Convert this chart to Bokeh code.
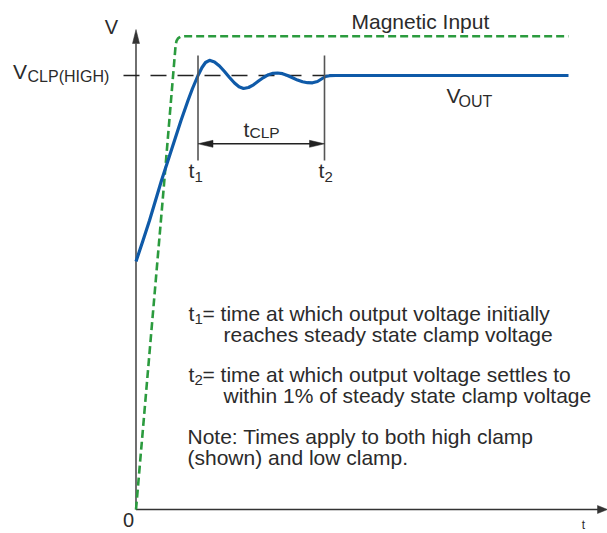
from bokeh.plotting import figure
from bokeh.models import Range1d
from bokeh.core.properties import value
from bokeh.embed import file_html
from bokeh.resources import INLINE

# ---- data (time / voltage in arbitrary units, origin where the axes cross) ----
vout_t = [0, 7, 13.5, 19.5, 25.5, 32, 38.5, 45, 52, 56.5, 62, 66, 69.5, 73.5,
          78.5, 83.5, 88.5, 93.5, 98.5, 103, 107.5, 112.5, 117.5, 122.5, 127.5,
          132.5, 137, 141.5, 146.5, 151.5, 156.5, 161.5, 166.5, 171.5, 176.5,
          181.5, 185.5, 189.5, 193.5, 199.5, 432.5]
vout_v = [248, 269, 289, 309, 329, 349, 369, 389, 409, 421, 434, 442, 447, 449.2,
          447.5, 443.5, 438, 432, 426.5, 422.7, 421, 422, 424.7, 428.5, 432,
          434.8, 436.2, 436.5, 435.8, 434, 431.7, 429.4, 427.7, 426.8, 426.7,
          428, 430.5, 433, 433.8, 434, 434]
mag_t = [0, 27.5, 37.5, 39.6, 40.5, 42, 44.5, 48.5, 432.5]
mag_v = [0, 319, 439, 464, 468.5, 471.2, 472.8, 473.2, 473.2]
V_CLP_HIGH = 434
T1 = 62
T2 = 188.5

# ---- layout (page pixels) ----
W, H = 607, 533
OX, OY = 135.5, 509
TEXT_DY = -7  # renderer places alphabetic baselines a little lower


def sx(px):
    return px - OX


def sy(py):
    return OY - py


p = figure(width=W, height=H, x_range=Range1d(sx(0), sx(W)),
           y_range=Range1d(sy(H), sy(0)), output_backend="svg",
           toolbar_location=None, min_border=0,
           x_axis_location=None, y_axis_location=None)
p.grid.visible = False
p.outline_line_color = None
p.background_fill_color = "white"
p.border_fill_color = "white"

AX = "#333333"
TXT = "#2b2b2b"
FONT = value("Liberation Sans")

# axes
p.segment(x0=[0, 0], y0=[0, 0], x1=[sx(598), 0], y1=[0, sy(43)],
          line_color=AX, line_width=1.4)
p.patches(xs=[[-3.5, 0, 3.5], [sx(597), sx(607), sx(597)]],
          ys=[[sy(43), sy(29), sy(43)], [4, 0, -4]],
          fill_color=AX, line_color=AX, line_width=0.5)

# clamp reference dashed line
p.line(x=[sx(123), sx(327)], y=[V_CLP_HIGH, V_CLP_HIGH], line_color="#222222",
       line_width=1.3, line_dash="16 11")

# magnetic input (green dashed)
p.line(x=mag_t, y=mag_v, line_color="#2b9b3e", line_width=2.6, line_dash="8 4")

# output (blue)
p.line(x=vout_t, y=vout_v, line_color="#0f5aa8", line_width=3.2,
       line_join="round")

# t1 / t2 markers
p.segment(x0=[T1, T2], y0=[sy(160), sy(160)], x1=[T1, T2], y1=[sy(55), sy(55)],
          line_color="#555555", line_width=1.6)
ay = sy(143.3)
p.segment(x0=[T1 + 10], y0=[ay], x1=[T2 - 10], y1=[ay], line_color="#222222",
          line_width=1.4)
p.patches(xs=[[T1, T1 + 15, T1 + 15], [T2, T2 - 15, T2 - 15]],
          ys=[[ay, ay + 3.5, ay - 3.5], [ay, ay + 3.5, ay - 3.5]],
          fill_color="#222222", line_color="#222222", line_width=0.5)


def txt(x, y, s, size, align="left"):
    p.text(x=[sx(x)], y=[sy(y + TEXT_DY)], text=[s], text_font=FONT,
           text_font_size=value(f"{size}px"), text_color=TXT,
           text_align=align, text_baseline="alphabetic")


# axis labels
txt(111, 33, "V", 20, align="center")
txt(128, 526, "0", 20, align="center")
txt(583, 531, "t", 12, align="center")

# curve labels
txt(351, 28, "Magnetic Input", 21)
txt(12.5, 78, "V", 21)
txt(27, 83, "CLP(HIGH)", 16)
txt(446, 102, "V", 21)
txt(458, 108, "OUT", 16)
txt(243, 136, "t", 21)
txt(249, 138.5, "CLP", 15.5)
txt(188, 177, "t", 21)
txt(194, 183, "1", 15)
txt(318, 177, "t", 21)
txt(324, 183, "2", 15)

# notes
txt(188, 320, "t", 21)
txt(194, 325, "1", 15)
txt(202, 320, "= time at which output voltage initially", 21)
txt(223, 341, "reaches steady state clamp voltage", 21)
txt(188, 381, "t", 21)
txt(194, 386, "2", 15)
txt(202, 381, "= time at which output voltage settles to", 21)
txt(223, 402, "within 1% of steady state clamp voltage", 21)
txt(187, 443, "Note: Times apply to both high clamp", 21)
txt(187, 464, "(shown) and low clamp.", 21)

open("out.html", "w").write(file_html(p, INLINE))
